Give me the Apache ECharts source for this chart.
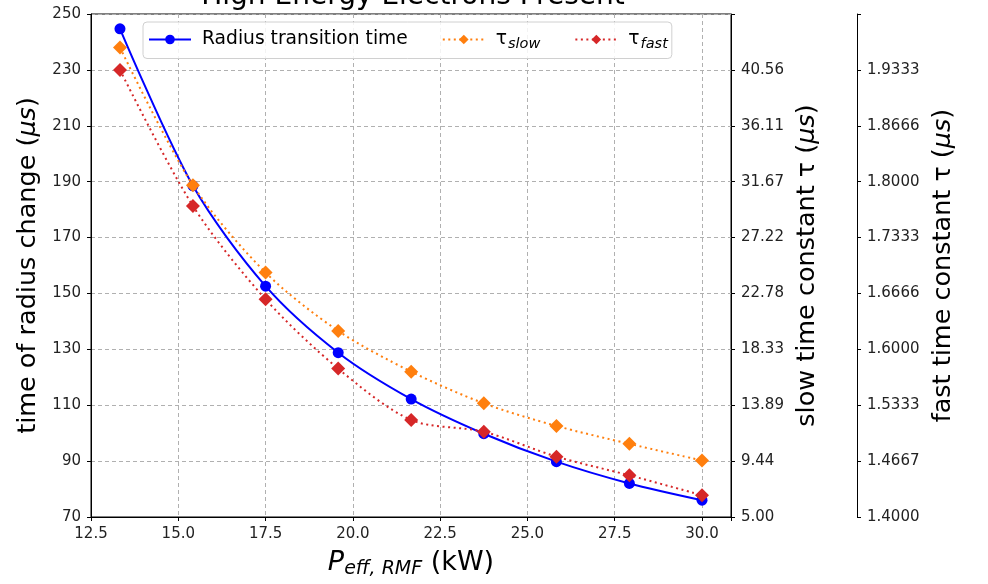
<!DOCTYPE html>
<html>
<head>
<meta charset="utf-8">
<script src="https://cdn.jsdelivr.net/npm/echarts@6/dist/echarts.min.js"></script>
<style>html,body{margin:0;padding:0;background:#fff}#c{width:988px;height:584px}</style>
</head>
<body>
<div id="c"></div>
<script>
// ---- data ----
const titleText = 'High Energy Electrons Present';
const power = [13.33, 15.42, 17.5, 19.58, 21.67, 23.75, 25.83, 27.92, 30.0];
const radiusTime = [244.7, 188.5, 152.6, 128.8, 112.2, 99.8, 89.8, 82.0, 76.0];
const tauSlow = [42.33, 31.38, 24.44, 19.80, 16.56, 14.04, 12.24, 10.82, 9.49];
const tauFast = [1.9333, 1.7710, 1.6597, 1.5770, 1.5157, 1.5017, 1.4720, 1.4497, 1.4260];
const xTickLabels = ['12.5', '15.0', '17.5', '20.0', '22.5', '25.0', '27.5', '30.0'];
const leftTickLabels = ['70', '90', '110', '130', '150', '170', '190', '210', '230', '250'];
const slowTickLabels = ['5.00', '9.44', '13.89', '18.33', '22.78', '27.22', '31.67', '36.11', '40.56'];
const fastTickLabels = ['1.4000', '1.4667', '1.5333', '1.6000', '1.6666', '1.7333', '1.8000', '1.8666', '1.9333'];

const FONT = 'DejaVu Sans';
const tickFont = {fontFamily: FONT, fontSize: 15, color: '#222'};
function fromArray(arr, min, step) {
  return function (v) {
    const i = Math.round((v - min) / step);
    if (Math.abs(min + i * step - v) > step * 0.01) return '';
    return arr[i] !== undefined ? arr[i] : '';
  };
}
const NAME_SIZE = 25.5;
const nameRich = {
  n: {fontFamily: FONT, fontSize: NAME_SIZE, color: '#000'},
  i: {fontFamily: FONT, fontSize: NAME_SIZE, fontStyle: 'italic', color: '#000'}
};
const gridLine = {show: true, lineStyle: {color: '#b0b0b0', type: [4, 3], width: 1}};
const axisLineBlack = {show: true, onZero: false, lineStyle: {color: '#000', width: 1}};
const tickOut = {show: true, inside: false, length: 4, lineStyle: {color: '#000'}};

const chart = echarts.init(document.getElementById('c'), null, {renderer: 'canvas'});
chart.setOption({
  animation: false,
  backgroundColor: '#fff',
  title: {
    text: titleText, left: 413, top: -17, padding: 0, textAlign: 'center',
    textStyle: {fontFamily: FONT, fontSize: 28, fontWeight: 'normal', color: '#000'}
  },
  grid: {left: 91, right: 257, top: 14, bottom: 62, show: true, borderColor: '#000', borderWidth: 1, backgroundColor: 'transparent'},
  legend: {
    left: 143, top: 22, padding: [8, 4, 7, 5], itemGap: 34, itemWidth: 42, itemHeight: 12,
    borderColor: '#d0d0d0', borderWidth: 1, borderRadius: 4, backgroundColor: 'rgba(255,255,255,0.85)',
    data: ['Radius transition time', 'slow', 'fast'],
    formatter: function (n) {
      if (n === 'slow') return '{t|τ}{s|slow}';
      if (n === 'fast') return '{t|τ}{s|fast}';
      return '{t|' + n + '}';
    },
    textStyle: {
      fontFamily: FONT, fontSize: 18.7, color: '#000',
      rich: {
        t: {fontFamily: FONT, fontSize: 18.7, color: '#000', padding: [0, 0, 0, 6]},
        s: {fontFamily: FONT, fontSize: 14.5, fontStyle: 'italic', color: '#000', padding: [9, 3, 0, 1]}
      }
    }
  },
  xAxis: {
    type: 'value', min: 12.5, max: 30.83, interval: 2.5,
    name: '{i|P}{s|eff, RMF}{n| (kW)}', nameLocation: 'middle', nameGap: 30,
    nameTextStyle: {rich: {
      i: {fontFamily: FONT, fontSize: 27, fontStyle: 'italic', color: '#000'},
      s: {fontFamily: FONT, fontSize: 19, fontStyle: 'italic', color: '#000', padding: [13, 0, 0, 0]},
      n: {fontFamily: FONT, fontSize: 27, color: '#000'}
    }},
    axisLine: axisLineBlack,
    axisTick: tickOut,
    axisLabel: Object.assign({margin: 10, formatter: fromArray(xTickLabels, 12.5, 2.5)}, tickFont),
    splitLine: gridLine
  },
  yAxis: [
    {
      type: 'value', min: 70, max: 250, interval: 20, position: 'left',
      name: '{n|time of radius change (}{i|μs}{n|)}', nameLocation: 'middle', nameGap: 49, nameRotate: 90,
      nameTextStyle: {rich: nameRich},
      axisLine: axisLineBlack,
      axisTick: tickOut,
      axisLabel: Object.assign({margin: 10, formatter: fromArray(leftTickLabels, 70, 20)}, tickFont),
      splitLine: gridLine
    },
    {
      type: 'value', min: 5, max: 45, interval: 40 / 9, position: 'right',
      name: '{n|slow time constant τ (}{i|μs}{n|)}', nameLocation: 'middle', nameGap: 62, nameRotate: 90,
      nameTextStyle: {rich: nameRich},
      axisLine: axisLineBlack,
      axisTick: tickOut,
      axisLabel: Object.assign({margin: 10, formatter: fromArray(slowTickLabels, 5, 40 / 9)}, tickFont),
      splitLine: {show: false}
    },
    {
      type: 'value', min: 1.4, max: 2.0, interval: 0.2 / 3, position: 'right', offset: 126,
      name: '{n|fast time constant τ (}{i|μs}{n|)}', nameLocation: 'middle', nameGap: 73, nameRotate: 90,
      nameTextStyle: {rich: nameRich},
      axisLine: axisLineBlack,
      axisTick: tickOut,
      axisLabel: Object.assign({margin: 10, formatter: fromArray(fastTickLabels, 1.4, 0.2 / 3)}, tickFont),
      splitLine: {show: false}
    }
  ],
  series: [
    {
      name: 'Radius transition time', type: 'line', yAxisIndex: 0,
      data: power.map((x, i) => [x, radiusTime[i]]),
      smooth: 0.3, symbol: 'circle', symbolSize: 11,
      lineStyle: {color: '#0000ff', width: 2}, itemStyle: {color: '#0000ff'}, z: 2
    },
    {
      name: 'slow', type: 'line', yAxisIndex: 1,
      data: power.map((x, i) => [x, tauSlow[i]]),
      smooth: 0.3, symbol: 'diamond', symbolSize: 14,
      lineStyle: {color: '#ff7f0e', width: 2, type: [2, 3.5]}, itemStyle: {color: '#ff7f0e'}, z: 3
    },
    {
      name: 'fast', type: 'line', yAxisIndex: 2,
      data: power.map((x, i) => [x, tauFast[i]]),
      smooth: 0.3, symbol: 'diamond', symbolSize: 14,
      lineStyle: {color: '#d62728', width: 2, type: [2, 3.5]}, itemStyle: {color: '#d62728'}, z: 4
    }
  ]
});
</script>
</body>
</html>
